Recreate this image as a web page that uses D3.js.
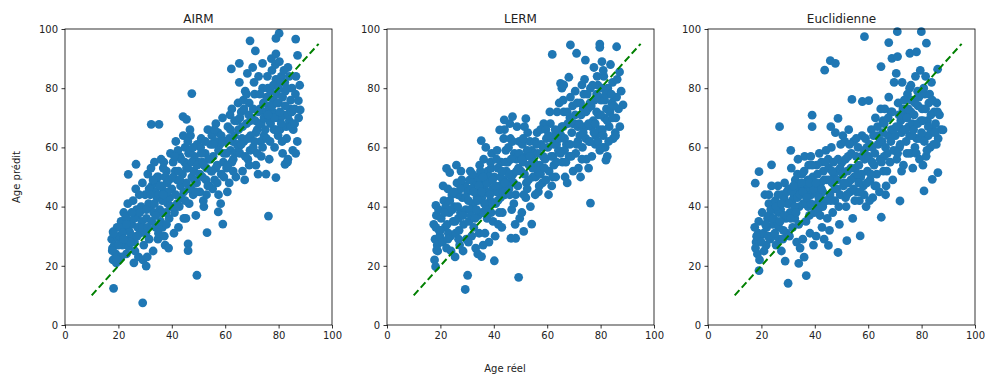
<!DOCTYPE html>
<html>
<head>
<meta charset="utf-8">
<script src="https://cdn.jsdelivr.net/npm/d3@7"></script>
<style>
  html, body { margin: 0; padding: 0; background: #fff; }
  svg { display: block; font-family: "DejaVu Sans", sans-serif; }
</style>
</head>
<body>
<svg id="fig" width="985" height="374"></svg>
<script>
// Panel titles
const methods = ["AIRM", "LERM", "Euclidienne"];
// Tick values shared by both axes
const ticks = [0, 20, 40, 60, 80, 100];
// Reference diagonal (real age = predicted age)
const diagonal = [[10, 10], [95, 95]];

// [real age, predicted age] — AIRM
const airm = [
  [17.5,29],[18,31.5],[18.5,27],[19,24],[19.5,33],[18,22],[19.8,29.5],[17.8,26],[19.2,21],
  [20.5,30],[21,35],[21.5,27],[22,38],[22.5,32],[23,24],[23.5,41],[24,29],[24.5,35],[21,23],[22.8,36.5],[24.2,31.5],[20.8,33],[23.8,26.5],
  [25,34],[25.5,42],[26,28],[26.5,46],[27,37],[27.5,23],[28,31],[28.5,40],[29,48],[29.5,27],[25.8,21],[27.2,33],[28.8,35],[26.8,39],[29.2,22],[25.3,30],
  [30,44],[30.5,36],[31,51],[31.5,29],[32,40],[32.5,47],[33,25],[33.5,55],[34,33],[34.5,43],[30.8,23],[32.2,53],[33.2,38],[34.2,48],[31.3,41],[34.8,29],[30.3,31],[33.8,45],
  [35,50],[35.5,39],[36,56],[36.5,33],[37,45],[37.5,27],[38,52],[38.5,41],[39,36],[39.5,58],[35.3,44],[36.3,47],[37.2,30],[38.2,48],[39.2,43],[36.8,53],[35.8,35],[38.8,26],[37.8,38],
  [40,46],[40.5,55],[41,38],[41.5,62],[42,49],[42.5,33],[43,57],[43.5,43],[44,51],[44.5,36],[40.3,40],[41.3,52],[42.3,59],[43.3,47],[44.3,64],[40.8,31],[42.8,40],[44.8,55],
  [45,60],[45.5,48],[46,53],[46.5,41],[47,64],[47.5,50],[48,44],[48.5,57],[49,37],[49.5,61],[45.3,36],[46.3,58],[47.3,46],[48.3,52],[49.3,48],[46.8,66],
  [50,55],[50.5,45],[51,63],[51.5,50],[52,40],[52.5,58],[53,53],[53.5,66],[54,47],[54.5,61],[50.8,60],[51.8,42],[52.8,49],[53.8,56],[54.8,52],
  [55,64],[55.5,57],[56,49],[56.5,68],[57,54],[57.5,44],[58,61],[58.5,51],[59,70],[59.5,58],[55.3,46],[56.3,62],[57.3,65],[58.3,41],[59.3,55],
  [60,62],[60.5,53],[61,67],[61.5,48],[62,59],[62.5,73],[63,56],[63.5,64],[64,50],[64.5,69],[60.8,45],[61.8,71],[62.8,62],[63.8,58],[64.8,75],
  [65,66],[65.5,58],[66,72],[66.5,52],[67,62],[67.5,79],[68,68],[68.5,56],[69,75],[69.5,64],[65.3,82],[66.3,63],[67.3,49],[68.3,85],[69.3,59],[66.8,76],[68.8,71],
  [70,70],[70.5,60],[71,78],[71.5,54],[72,66],[72.5,84],[73,73],[73.5,57],[74,80],[74.5,64],[70.3,87],[71.3,69],[72.3,51],[73.3,62],[74.3,75],[70.8,82],[72.8,68],
  [75,72],[75.5,63],[76,80],[76.5,56],[77,68],[77.5,86],[78,76],[78.5,60],[79,83],[79.5,70],[75.3,51],[76.3,74],[77.3,90],[78.3,66],[79.3,78],[76.8,62],[78.8,88],[77.8,72],[79.8,64],[75.8,84],
  [80,75],[80.5,66],[81,84],[81.5,58],[82,71],[82.5,79],[83,63],[83.5,87],[84,69],[84.5,76],[80.3,89],[81.3,62],[82.3,82],[83.3,55],[84.3,73],[80.8,70],[82.8,67],
  [85,80],[85.5,66],[86,73],[86.5,84],[87,62],[87.5,70],[85.3,59],[86.3,78],
  [20,27],[21.5,31],[23,34],[24.5,28],[26,36],[27,30],[28,38],[29,33],[22,29],[25,38],[27.8,44],[26.2,25],
  [30.5,39],[31.5,46],[32.5,35],[33.5,41],[34.5,50],[35.5,47],[36.5,42],[37.5,50],[38.5,45],[39.5,40],[31,33],[33,49],[35,31],[36,38],[37,55],[38,34],[39,49],[32,44],[34,37],[36.8,44],
  [40.5,50],[41.5,44],[42.5,52],[43.5,56],[44.5,45],[45.5,53],[46.5,46],[47.5,55],[48.5,49],[49.5,54],[41,57],[43,49],[45,42],[47,59],[49,45],[42,41],[46,62],[48,60],
  [50.5,51],[51.5,55],[52.5,62],[53.5,47],[54.5,56],[55.5,61],[56.5,53],[57.5,59],[58.5,64],[59.5,50],[51,58],[53,44],[55,52],[57,48],[59,62],[52,54],[56,66],
  [60.5,58],[61.5,63],[62.5,55],[63.5,69],[64.5,61],[65.5,70],[66.5,67],[67.5,57],[68.5,63],[69.5,69],[61,54],[63,52],[65,60],[67,73],[69,54],[62,66],[66,61],[68,78],
  [70.5,73],[71.5,65],[72.5,72],[73.5,68],[74.5,70],[75.5,77],[76.5,69],[77.5,74],[78.5,70],[79.5,75],[71,62],[73,78],[75,66],[77,79],[79,66],[72,58],[74,60],[76,71],[78,81],[80,80],
  [80.5,72],[81.5,77],[82.5,74],[83.5,71],[84.5,67],[81,68],[83,80],[85,72],[86,68],[80.8,82],[82,86],[84,84],
  [80.2,98.5],[79,96.8],[69.3,96],[86.4,96.6],[71.3,92.6],[87.1,91.1],[79,91.6],[62.3,86.5],[65.3,88.4],[74,88.4],
  [47.5,78.2],[32.3,67.8],[35.2,67.8],[44.2,70.4],[45.5,69.5],[26.6,54.3],[23.7,50.9],[76.2,36.8],[79,49.8],[86.4,58],
  [18.2,12.4],[29.1,7.5],[49.4,16.8],[46.1,27.4],[46.1,25.1],[59.1,34.1],[53.2,31.2],[57.4,38.2],[17.7,25.1],[19.5,22],
  [18.2,31],[30.4,19.9],[82.4,54.3],[83.5,56],[88.1,72.7],[87.4,75.8],[87.9,81]
];

// [real age, predicted age] — LERM
const lerm = [
  [17.5,34],[18,29],[18.5,37],[19,25],[19.5,32],[17.8,22],[18.8,27],[19.3,39],[19.8,30],
  [20.3,36],[20.8,28],[21.3,42],[21.8,33],[22.3,26],[22.8,46],[23.3,38],[23.8,30],[24.3,44],[24.8,35],[21,47],[22,40],[23,31],[24,25],
  [25.2,40],[25.7,31],[26.2,48],[26.7,36],[27.2,27],[27.7,52],[28.2,43],[28.7,34],[29.2,47],[29.7,29],[25.5,23],[26.5,44],[27.5,38],[28.5,25],[29.5,39],[26,54],
  [30.2,45],[30.7,35],[31.2,52],[31.7,30],[32.2,41],[32.7,48],[33.2,26],[33.7,43],[34.2,37],[34.7,54],[30.5,28],[31.5,46],[32.5,33],[33.5,50],[34.5,31],[31,39],[33,45],[34,24],
  [35.2,49],[35.7,38],[36.2,56],[36.7,31],[37.2,45],[37.7,52],[38.2,28],[38.7,42],[39.2,58],[39.7,35],[35.5,43],[36.5,47],[37.5,36],[38.5,50],[39.5,46],[36,27],[38,40],[39,53],[37,60],
  [40.2,50],[40.7,41],[41.2,59],[41.7,34],[42.2,47],[42.7,55],[43.2,38],[43.7,63],[44.2,44],[44.7,52],[40.5,30],[41.5,53],[42.5,43],[43.5,49],[44.5,59],[41,45],[43,33],[44,66],
  [45.2,55],[45.7,46],[46.2,63],[46.7,39],[47.2,51],[47.7,58],[48.2,44],[48.7,67],[49.2,53],[49.7,36],[45.5,60],[46.5,49],[47.5,41],[48.5,56],[49.5,62],[46,68],[48,34],
  [50.2,52],[50.7,61],[51.2,44],[51.7,57],[52.2,48],[52.7,65],[53.2,54],[53.7,40],[54.2,59],[54.7,50],[50.5,38],[51.5,67],[52.5,46],[53.5,62],[54.5,56],[51,55],
  [55.2,58],[55.7,50],[56.2,65],[56.7,45],[57.2,54],[57.7,61],[58.2,48],[58.7,68],[59.2,56],[59.7,63],[55.5,44],[56.5,52],[57.5,66],[58.5,57],[59.5,49],
  [60.2,60],[60.7,52],[61.2,68],[61.7,47],[62.2,57],[62.7,64],[63.2,50],[63.7,72],[64.2,59],[64.7,66],[60.5,44],[61.5,63],[62.5,54],[63.5,61],[64.5,75],
  [65.2,64],[65.7,55],[66.2,72],[66.7,50],[67.2,61],[67.7,68],[68.2,57],[68.7,77],[69.2,65],[69.7,52],[65.5,80],[66.5,59],[67.5,48],[68.5,70],[69.5,74],[66,67],
  [70.2,68],[70.7,58],[71.2,75],[71.7,53],[72.2,64],[72.7,71],[73.2,60],[73.7,78],[74.2,67],[74.7,56],[70.5,79],[71.5,62],[72.5,50],[73.5,73],[74.5,63],
  [75.2,73],[75.7,62],[76.2,80],[76.7,57],[77.2,69],[77.7,76],[78.2,64],[78.7,84],[79.2,71],[79.7,59],[75.5,53],[76.5,67],[77.5,87],[78.5,78],[79.5,66],[76,75],[78,61],[79,81],
  [80.2,76],[80.7,66],[81.2,84],[81.7,60],[82.2,73],[82.7,80],[83.2,67],[83.7,88],[84.2,75],[84.7,63],[80.5,89],[81.5,70],[82.5,57],[83.5,78],[84.5,82],[81,64],
  [85.2,77],[85.7,70],[86.2,83],[86.7,73],[87.2,67],[87.7,79],[85.5,65],
  [18.3,33],[20,32],[21.5,38],[22.5,34],[23.5,42],[24.5,39],[25.5,35],[26.5,40],[27.5,46],[28.5,37],[29.5,43],[27,32],[25,45],[22.8,29],[26.8,29],[28,49],
  [30.5,42],[31.5,37],[32.5,45],[33.5,39],[34.5,47],[35.5,45],[36.5,41],[37.5,48],[38.5,44],[39.5,49],[31,49],[33,36],[35,52],[37,39],[39,38],[32,51],[36,50],[38.8,55],[34,42],
  [40.5,47],[41.5,42],[42.5,50],[43.5,45],[44.5,55],[45.5,51],[46.5,56],[47.5,48],[48.5,52],[49.5,58],[41,56],[43,52],[45,47],[47,62],[49,47],[42,38],[44,48],[46,44],
  [50.5,56],[51.5,51],[52.5,59],[53.5,57],[54.5,53],[55.5,62],[56.5,58],[57.5,51],[58.5,60],[59.5,66],[51,63],[53,49],[55,55],[57,47],[59,53],[52,43],[56,61],
  [60.5,64],[61.5,57],[62.5,61],[63.5,55],[64.5,63],[65.5,67],[66.5,63],[67.5,72],[68.5,61],[69.5,68],[61,72],[63,66],[65,58],[67,55],[69,57],[62,50],[66,76],
  [70.5,71],[71.5,67],[72.5,75],[73.5,65],[74.5,72],[75.5,68],[76.5,74],[77.5,65],[78.5,72],[79.5,77],[71,61],[73,56],[75,78],[77,81],[79,62],[72,68],[74,83],[76,62],[78,68],[80,71],
  [80.5,80],[81.5,76],[82.5,69],[83.5,72],[84.5,70],[81,86],[83,62],[85,74],[86,77],[80.8,60],[82,78],[84,78],
  [68.7,94.6],[61.9,91.4],[71,91.8],[74.3,89.5],[79.7,94.9],[79.7,93.8],[86,94],[87.1,85.5],[88.4,74.4],[85.6,63.9],
  [82,55.7],[76.2,41.2],[49.3,16.1],[29.3,12],[30.2,16.8],[40.2,21.7],[35.4,23.1],[18.3,40.4],[22.3,52.9],[23.5,51.5],
  [35.3,62.3],[42.2,65.9],[43.9,69.3],[47,70.4],[52,69.7],[65,81.6],[66.2,81.1],[68.1,83.7],[73,81.1],[46.4,29.3],
  [48.2,29.3],[51.2,31.6],[54.2,34.1],[18.2,19.7],[18.6,25.3]
];

// [real age, predicted age] — Euclidienne
const euclid = [
  [17.5,33],[18,28],[18.5,24],[19,35],[19.5,30],[17.8,26],[18.8,31],[19.3,22],
  [20.3,38],[20.8,31],[21.3,44],[21.8,27],[22.3,36],[22.8,41],[23.3,29],[23.8,47],[24.3,34],[24.8,39],[21,25],[22,33],[23,37],[24,30],
  [25.2,42],[25.7,35],[26.2,47],[26.7,29],[27.2,39],[27.7,44],[28.2,32],[28.7,48],[29.2,36],[29.7,41],[25.5,27],[26.5,38],[27.5,25],[28.5,43],[29.5,31],
  [30.2,46],[30.7,38],[31.2,53],[31.7,33],[32.2,43],[32.7,49],[33.2,28],[33.7,56],[34.2,40],[34.7,47],[30.5,30],[31.5,42],[32.5,36],[33.5,51],[34.5,26],[31,59],[33,45],
  [35.2,51],[35.7,41],[36.2,57],[36.7,35],[37.2,46],[37.7,54],[38.2,31],[38.7,44],[39.2,50],[39.7,38],[35.5,29],[36.5,48],[37.5,40],[38.5,57],[39.5,27],[36,44],[38,37],
  [40.2,45],[40.7,54],[41.2,39],[41.7,58],[42.2,48],[42.7,33],[43.2,52],[43.7,42],[44.2,59],[44.7,36],[40.5,30],[41.5,47],[42.5,55],[43.5,29],[44.5,49],[41,41],[43,45],
  [45.2,53],[45.7,44],[46.2,60],[46.7,38],[47.2,50],[47.7,65],[48.2,46],[48.7,56],[49.2,34],[49.7,61],[45.5,32],[46.5,48],[47.5,42],[48.5,52],[49.5,44],[46,67],
  [50.2,55],[50.7,47],[51.2,62],[51.7,40],[52.2,52],[52.7,66],[53.2,45],[53.7,58],[54.2,36],[54.7,50],[50.5,64],[51.5,43],[52.5,57],[53.5,49],[54.5,62],
  [55.2,53],[55.7,45],[56.2,60],[56.7,42],[57.2,50],[57.7,64],[58.2,47],[58.7,56],[59.2,40],[59.7,52],[55.5,63],[56.5,48],[57.5,57],[58.5,44],[59.5,60],
  [60.2,57],[60.7,49],[61.2,66],[61.7,43],[62.2,54],[62.7,70],[63.2,51],[63.7,61],[64.2,45],[64.7,73],[60.5,42],[61.5,60],[62.5,47],[63.5,67],[64.5,56],
  [65.2,62],[65.7,52],[66.2,73],[66.7,47],[67.2,58],[67.7,77],[68.2,55],[68.7,66],[69.2,49],[69.7,82],[65.5,69],[66.5,44],[67.5,64],[68.5,72],[69.5,59],[66,57],
  [70.2,64],[70.7,56],[71.2,75],[71.7,60],[72.2,69],[72.7,82],[73.2,54],[73.7,71],[74.2,62],[74.7,78],[70.5,85],[71.5,67],[72.5,52],[73.5,76],[74.5,58],
  [75.2,67],[75.7,58],[76.2,76],[76.7,53],[77.2,71],[77.7,84],[78.2,63],[78.7,74],[79.2,56],[79.7,69],[75.5,80],[76.5,64],[77.5,60],[78.5,79],[79.5,86],[76,72],
  [80.2,73],[80.7,63],[81.2,78],[81.7,57],[82.2,69],[82.7,75],[83.2,60],[83.7,82],[84.2,66],[84.7,72],[80.5,54],[81.5,84],[82.5,64],[83.5,71],
  [85.2,68],[85.7,75],[86.2,63],[86.7,71],[87.2,66],[85.5,61],
  [18.2,30],[20,28],[21.5,34],[22.5,30],[23.5,39],[24.5,36],[25.5,40],[26.5,33],[27.5,41],[28.5,37],[29.5,45],[27,35],[25,31],[22.8,44],[26.2,44],[28,29],
  [30.5,41],[31.5,45],[32.5,40],[33.5,43],[34.5,44],[35.5,45],[36.5,41],[37.5,49],[38.5,41],[39.5,46],[31,36],[33,38],[35,48],[37,43],[39,54],[32,47],[34,34],[36,52],[38,48],
  [40.5,48],[41.5,43],[42.5,46],[43.5,49],[44.5,42],[45.5,49],[46.5,52],[47.5,46],[48.5,49],[49.5,53],[41,51],[43,40],[45,56],[47,55],[49,40],[42,37],[44,55],[46,42],
  [50.5,51],[51.5,56],[52.5,48],[53.5,53],[54.5,46],[55.5,57],[56.5,54],[57.5,51],[58.5,59],[59.5,48],[51,48],[53,61],[55,42],[57,45],[59,63],[52,44],[56,51],
  [60.5,61],[61.5,55],[62.5,58],[63.5,64],[64.5,62],[65.5,65],[66.5,60],[67.5,70],[68.5,62],[69.5,66],[61,51],[63,47],[65,55],[67,52],[69,72],[62,64],[66,68],
  [70.5,67],[71.5,71],[72.5,65],[73.5,66],[74.5,70],[75.5,64],[76.5,68],[77.5,75],[78.5,68],[79.5,63],[71,58],[73,73],[75,73],[77,66],[79,77],[72,61],[74,66],[76,81],[78,58],[80,65],
  [80.5,69],[81.5,73],[82.5,67],[83.5,65],[84.5,61],[81,62],[83,78],[85,65],[86,72],[80.8,80],[82,59],[84,76],
  [58.6,97.4],[70.9,99.1],[79.9,99.1],[67.7,95.4],[81.8,95.2],[75.6,91.8],[78.1,92.3],[68.9,90.1],[71,90.7],[43.7,86.1],
  [45.8,89.3],[47.7,88.4],[64.8,87.3],[86,86.4],[53.9,76.2],[57.8,75.5],[60.2,75.8],[26.8,67],[39,70.9],[39,67],
  [48.7,69.8],[88,65.9],[86.1,51.5],[84,49.2],[80.9,45.3],[71.9,41.9],[64.9,36.4],[57,30.1],[52,28.5],[48.7,24.5],
  [45.1,26.9],[36.8,16.7],[30,14.1],[19.1,18.4],[34,20.8],[36,22.9],[19.1,51.8],[17.7,47.9],[23.8,54.1],[28.9,21.6]
];

const series = [airm, lerm, euclid];

const svg = d3.select("#fig");
const panelLefts = [65, 387, 708];
const panelW = 267, plotTop = 29, plotBottom = 325;

const y = d3.scaleLinear().domain([0, 100]).range([plotBottom, plotTop]);

series.forEach((pts, i) => {
  const x = d3.scaleLinear().domain([0, 100]).range([panelLefts[i], panelLefts[i] + panelW]);
  const g = svg.append("g");

  // scatter
  g.append("g").selectAll("circle").data(pts).join("circle")
    .attr("cx", d => x(d[0]))
    .attr("cy", d => y(d[1]))
    .attr("r", 4.4)
    .attr("fill", "#1f77b4");

  // identity line
  g.append("path")
    .datum(diagonal)
    .attr("d", d3.line().x(d => x(d[0])).y(d => y(d[1])))
    .attr("fill", "none")
    .attr("stroke", "#008000")
    .attr("stroke-width", 2)
    .attr("stroke-dasharray", "7,3.5");

  // axes
  const xAxis = g.append("g").attr("transform", `translate(0,${plotBottom})`)
    .call(d3.axisBottom(x).tickValues(ticks).tickSize(3.5).tickPadding(3.5));
  const yAxis = g.append("g").attr("transform", `translate(${panelLefts[i]},0)`)
    .call(d3.axisLeft(y).tickValues(ticks).tickSize(3.5).tickPadding(3.5));
  [xAxis, yAxis].forEach(a => {
    a.select(".domain").remove();
    a.selectAll("line").attr("stroke", "#000").attr("stroke-width", 0.8);
    a.selectAll("text").attr("font-size", 10).attr("fill", "#222")
      .attr("font-family", "DejaVu Sans, sans-serif");
  });

  // frame
  g.append("rect")
    .attr("x", panelLefts[i]).attr("y", plotTop)
    .attr("width", panelW).attr("height", plotBottom - plotTop)
    .attr("fill", "none").attr("stroke", "#000").attr("stroke-width", 0.8);

  // title
  g.append("text")
    .attr("x", panelLefts[i] + panelW / 2).attr("y", plotTop - 6)
    .attr("text-anchor", "middle")
    .attr("font-size", 12)
    .attr("fill", "#222")
    .text(methods[i]);
});

svg.append("text")
  .attr("x", 505).attr("y", 372)
  .attr("text-anchor", "middle").attr("font-size", 10).attr("fill", "#222")
  .text("Age réel");

svg.append("text")
  .attr("transform", "translate(20,177) rotate(-90)")
  .attr("text-anchor", "middle").attr("font-size", 10).attr("fill", "#222")
  .text("Age prédit");
</script>
</body>
</html>
